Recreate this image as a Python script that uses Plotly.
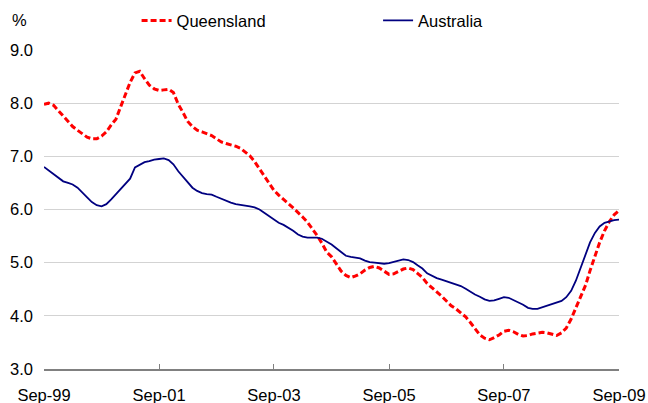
import pandas as pd
import plotly.graph_objects as go

# Monthly trend unemployment rate (%), Sep-1999 .. Sep-2009
months = pd.date_range("1999-09-01", "2009-09-01", freq="MS")

queensland = [
    7.98, 8.00, 7.96, 7.86, 7.75, 7.64, 7.56, 7.49, 7.42, 7.36,
    7.33, 7.33, 7.38, 7.46, 7.59, 7.70, 7.94, 8.18, 8.39, 8.57,
    8.60, 8.46, 8.34, 8.27, 8.24, 8.25, 8.26, 8.20, 7.98, 7.82,
    7.66, 7.56, 7.49, 7.46, 7.43, 7.39, 7.33, 7.27, 7.24, 7.22,
    7.19, 7.15, 7.09, 7.01, 6.90, 6.76, 6.63, 6.50, 6.36, 6.27,
    6.18, 6.11, 6.03, 5.95, 5.86, 5.76, 5.64, 5.51, 5.37, 5.20,
    5.11, 4.97, 4.84, 4.76, 4.72, 4.75, 4.79, 4.86, 4.91, 4.93,
    4.90, 4.84, 4.78, 4.79, 4.84, 4.88, 4.90, 4.87, 4.80, 4.72,
    4.61, 4.52, 4.45, 4.37, 4.28, 4.19, 4.13, 4.06, 3.98, 3.87,
    3.76, 3.64, 3.58, 3.55, 3.59, 3.64, 3.71, 3.73, 3.70, 3.65,
    3.62, 3.63, 3.66, 3.68, 3.69, 3.68, 3.65, 3.63, 3.68, 3.77,
    3.94, 4.14, 4.35, 4.58, 4.85, 5.12, 5.38, 5.60, 5.77, 5.90,
    5.98,
]

australia = [
    6.80, 6.73, 6.66, 6.59, 6.53, 6.50, 6.47, 6.41, 6.33, 6.23,
    6.14, 6.08, 6.06, 6.10, 6.19, 6.29, 6.39, 6.48, 6.58, 6.79,
    6.84, 6.89, 6.91, 6.94, 6.95, 6.96, 6.93, 6.85, 6.72, 6.62,
    6.51, 6.41, 6.35, 6.31, 6.29, 6.28, 6.24, 6.20, 6.17, 6.13,
    6.10, 6.09, 6.08, 6.06, 6.04, 6.00, 5.94, 5.88, 5.82, 5.75,
    5.71, 5.66, 5.60, 5.53, 5.49, 5.47, 5.47, 5.47, 5.45, 5.40,
    5.34, 5.27, 5.19, 5.13, 5.11, 5.10, 5.08, 5.04, 5.01, 5.00,
    4.99, 4.98, 4.99, 5.01, 5.04, 5.06, 5.05, 5.01, 4.95, 4.89,
    4.80, 4.75, 4.71, 4.68, 4.65, 4.62, 4.59, 4.56, 4.51, 4.45,
    4.40, 4.36, 4.31, 4.28, 4.29, 4.32, 4.35, 4.34, 4.30, 4.25,
    4.21, 4.15, 4.13, 4.13, 4.16, 4.20, 4.23, 4.25, 4.28, 4.35,
    4.47, 4.66, 4.90, 5.17, 5.38, 5.56, 5.68, 5.75, 5.78, 5.80,
    5.81,
]

tick_dates = ["1999-09-01", "2001-09-01", "2003-09-01", "2005-09-01", "2007-09-01", "2009-09-01"]
tick_labels = ["Sep-99", "Sep-01", "Sep-03", "Sep-05", "Sep-07", "Sep-09"]
y_ticks = [3, 4, 5, 6, 7, 8, 9]
y_labels = ["3.0", "4.0", "5.0", "6.0", "7.0", "8.0", "9.0"]

FONT = "Liberation Sans, Arial, sans-serif"

fig = go.Figure()
fig.add_trace(go.Scatter(
    x=months, y=queensland, mode="lines", name="Queensland",
    line=dict(color="#FF0000", width=3, dash="6px,3px"),
    legend="legend", showlegend=True,
))
fig.add_trace(go.Scatter(
    x=months, y=australia, mode="lines", name="Australia",
    line=dict(color="#000080", width=1.8),
    legend="legend2", showlegend=True,
))

fig.update_layout(
    width=648, height=403,
    margin=dict(l=44, r=29, t=50, b=34, autoexpand=False),
    paper_bgcolor="white", plot_bgcolor="white",
    font=dict(family=FONT, size=16.5, color="#000000"),
    legend=dict(orientation="h", x=0.161, xanchor="left", y=1.092, yanchor="middle",
                bgcolor="rgba(0,0,0,0)", font=dict(size=16.5), itemwidth=30),
    legend2=dict(orientation="h", x=0.581, xanchor="left", y=1.092, yanchor="middle",
                 bgcolor="rgba(0,0,0,0)", font=dict(size=16.5), itemwidth=30),
    xaxis=dict(
        range=["1999-09-01", "2009-09-01"],
        tickvals=tick_dates, ticktext=tick_labels,
        ticks="inside", ticklen=5, tickcolor="#808080", tickwidth=1,
        showline=True, linecolor="#808080", linewidth=1.5,
        showgrid=False, zeroline=False,
        ticklabelstandoff=10,
        tickfont=dict(size=16.5),
    ),
    yaxis=dict(
        range=[3, 9],
        tickvals=y_ticks, ticktext=y_labels,
        showgrid=True, gridcolor="#D3D3D3", gridwidth=1,
        showline=False, zeroline=False, ticks="",
        ticklabelstandoff=10,
        tickfont=dict(size=16.5),
    ),
    annotations=[dict(text="%", x=0, xref="paper", xanchor="center", xshift=-25,
                      y=1 + 30 / 319, yref="paper", yanchor="middle", showarrow=False,
                      font=dict(size=16.5))],
)

fig.write_html(
    "out.html",
    config={"displayModeBar": False},
    post_script="document.body.style.margin='0';document.body.style.overflow='hidden';",
)
